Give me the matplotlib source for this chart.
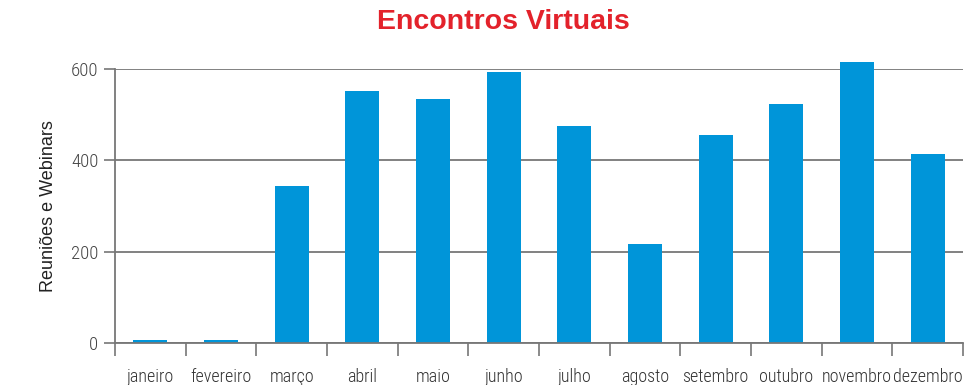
import numpy as np
import matplotlib.pyplot as plt

meses = ['janeiro', 'fevereiro', 'março', 'abril', 'maio', 'junho',
         'julho', 'agosto', 'setembro', 'outubro', 'novembro', 'dezembro']
encontros = [7, 7, 344, 552, 534, 593, 475, 217, 455, 523, 615, 414]
yticks = [0, 200, 400, 600]

tick_font = dict(fontfamily=['Roboto Condensed', 'DejaVu Sans'], fontweight='light')

fig = plt.figure(figsize=(9.76, 3.85), dpi=100)
ax = fig.add_axes([115 / 976, 42 / 385, 848 / 976, 274 / 385])

x = np.arange(len(meses))
ax.bar(x, encontros, width=0.48, color='#0095d9', zorder=3, clip_on=False)

ax.set_xlim(-0.5, len(meses) - 0.5)
ax.set_ylim(0, 600)
ax.set_yticks(yticks)
ax.set_yticklabels([str(v) for v in yticks], fontsize=13.5, color='#444444', **tick_font)
ax.yaxis.grid(True, color='#777777', linewidth=1.3, zorder=1)
ax.tick_params(axis='y', length=8, width=1.2, color='#777777', pad=4)

# month names centred under bars, ticks sit between the months
ax.set_xticks(x)
ax.set_xticklabels(meses, fontsize=13, color='#333333', **tick_font)
ax.tick_params(axis='x', length=0, pad=18)
ax.set_xticks(np.arange(-0.5, len(meses)), minor=True)
ax.tick_params(axis='x', which='minor', length=9, width=1.2, color='#777777')

for side in ['top', 'right', 'bottom']:
    ax.spines[side].set_visible(False)
ax.spines['left'].set_color('#777777')
ax.spines['left'].set_linewidth(1.3)
ax.axhline(0, color='#777777', linewidth=1.3, zorder=4, clip_on=False)

ax.set_ylabel('Reuniões e Webinars', fontfamily='Liberation Sans', fontsize=13,
              color='#222222', labelpad=10)
fig.text(503 / 976, 1 - 22 / 385, 'Encontros Virtuais', fontfamily='Liberation Sans',
         fontweight='bold', fontsize=20.5, color='#e3222b', ha='center', va='center')

fig.savefig('out.png', dpi=100)
